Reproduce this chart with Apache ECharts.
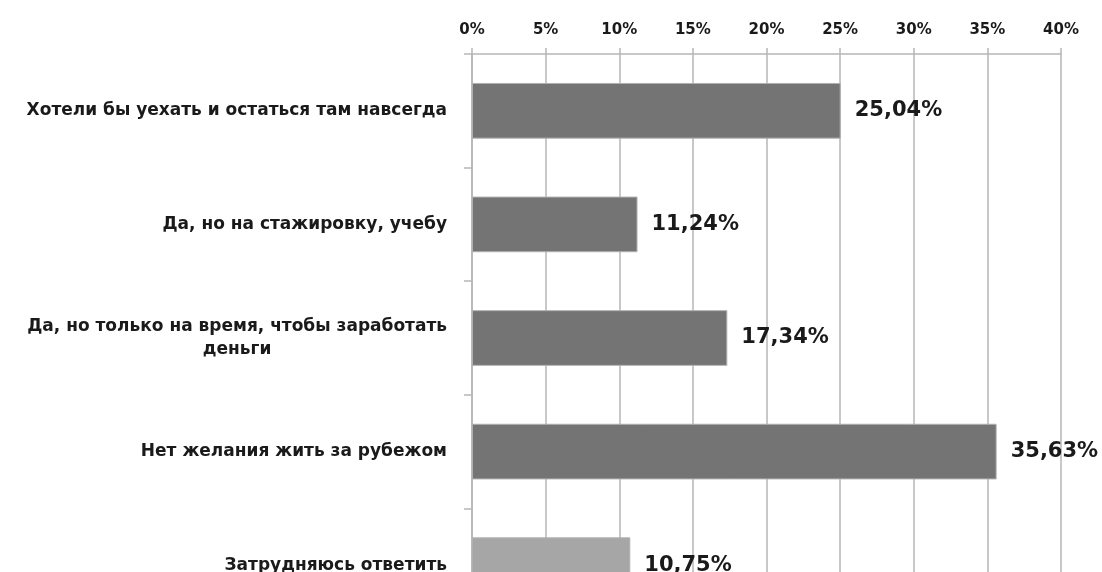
<!DOCTYPE html>
<html>
<head>
<meta charset="utf-8">
<script src="https://cdn.jsdelivr.net/npm/echarts@6/dist/echarts.min.js"></script>
<style>
  html, body { margin: 0; padding: 0; background: #ffffff; overflow: hidden; }
  #chart { width: 1102px; height: 640px; }
</style>
</head>
<body>
<div id="chart"></div>
<script>
// Survey answers: would you like to live abroad?
const categories = [
  'Хотели бы уехать и остаться там навсегда',
  'Да, но на стажировку, учебу',
  'Да, но только на время, чтобы заработать\nденьги',
  'Нет желания жить за рубежом',
  'Затрудняюсь ответить'
];
const shares = [25.04, 11.24, 17.34, 35.63, 10.75];
const axisTicks = [0, 5, 10, 15, 20, 25, 30, 35, 40];

const FONT = '"DejaVu Sans", sans-serif';
const GRID_COLOR = '#b6b6b6';
const BAR_DARK = '#747474';
const BAR_LIGHT = '#a6a6a6';

const chart = echarts.init(document.getElementById('chart'), null, { renderer: 'canvas' });

const barData = shares.map((v, i) => ({
  value: v,
  itemStyle: { color: i === shares.length - 1 ? BAR_LIGHT : BAR_DARK }
}));

chart.setOption({
  animation: false,
  backgroundColor: '#ffffff',
  grid: { left: 472, right: 41, top: 54, bottom: 18, containLabel: false },
  xAxis: {
    type: 'value',
    position: 'top',
    min: axisTicks[0],
    max: axisTicks[axisTicks.length - 1],
    interval: axisTicks[1] - axisTicks[0],
    axisLine: { show: true, lineStyle: { color: GRID_COLOR, width: 1.5 } },
    axisTick: { show: true, length: 6, lineStyle: { color: GRID_COLOR, width: 1.5 } },
    splitLine: { show: true, lineStyle: { color: GRID_COLOR, width: 1.5 } },
    axisLabel: {
      margin: 16,
      formatter: '{value}%',
      fontFamily: FONT,
      fontWeight: 'bold',
      fontSize: 15,
      color: '#1a1a1a'
    }
  },
  yAxis: {
    type: 'category',
    inverse: true,
    data: categories,
    axisLine: { show: true, lineStyle: { color: GRID_COLOR, width: 1.5 } },
    axisTick: { show: true, length: 8, alignWithLabel: false, lineStyle: { color: GRID_COLOR, width: 1.5 } },
    axisLabel: {
      margin: 25,
      formatter: (v) => v.split('\n').map(s => '{c|' + s + '}').join('\n'),
      rich: {
        c: {
          align: 'center',
          fontFamily: FONT,
          fontWeight: 'bold',
          fontSize: 17,
          lineHeight: 23,
          color: '#1a1a1a'
        }
      }
    }
  },
  series: [{
    type: 'bar',
    data: barData,
    barWidth: '49%',
    itemStyle: { borderColor: '#b0b0b0', borderWidth: 1 },
    label: {
      show: true,
      position: 'right',
      distance: 14,
      formatter: (p) => p.value.toFixed(2).replace('.', ',') + '%',
      fontFamily: FONT,
      fontWeight: 'bold',
      fontSize: 21,
      color: '#1a1a1a'
    }
  }]
});
</script>
</body>
</html>
